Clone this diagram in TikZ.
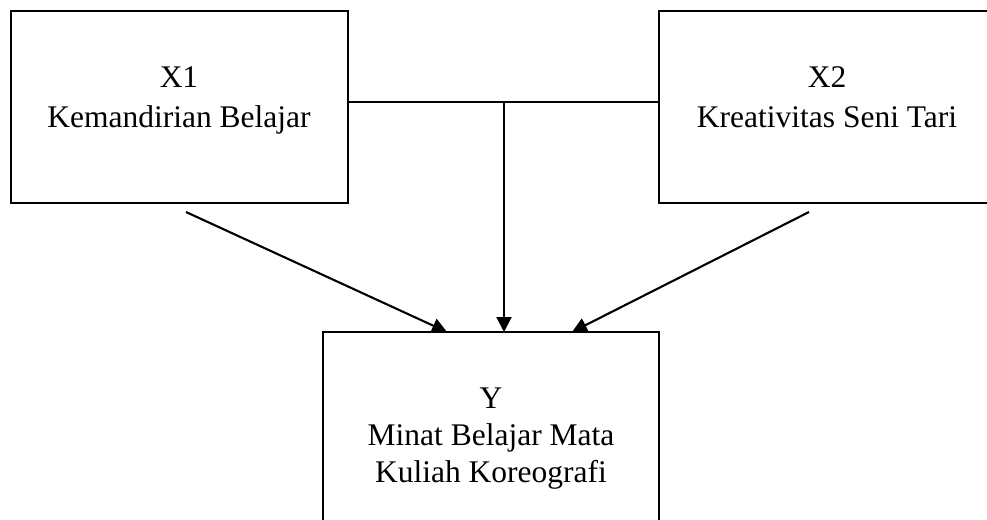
\documentclass[tikz,border=0pt]{standalone}
\usepackage{fontspec}
\setmainfont{Liberation Serif}
\usetikzlibrary{arrows.meta}
\tikzset{
  box/.style={draw=black, line width=2.1pt, fill=none, inner sep=0pt, outer sep=0pt, minimum width=337pt, minimum height=192pt},
  lbl/.style={anchor=base, inner sep=0pt, font=\fontsize{31.5}{38}\selectfont},
  conn/.style={line width=2.1pt, draw=black},
  arr/.style={conn, -{Triangle[length=15pt,width=15pt]}}
}
\begin{document}
\begin{tikzpicture}[x=1pt,y=-1pt]
\useasboundingbox (0,0) rectangle (987,519);
\node[box] (X1) at (179.5,107) {};
\node[box, minimum width=336pt] (X2) at (827,107) {};
\node[box, minimum width=336pt, minimum height=206pt] (Y) at (491,435) {};
\node[lbl] (x1a) at (179,88) {X1};
\node[lbl] (x1b) at (179,127) {Kemandirian Belajar};
\node[lbl] (x2a) at (827,88) {X2};
\node[lbl] (x2b) at (827,127) {Kreativitas Seni Tari};
\node[lbl] (ya) at (491,408) {Y};
\node[lbl] (yb) at (491,445) {Minat Belajar Mata};
\node[lbl] (yc) at (491,482) {Kuliah Koreografi};
\coordinate (j) at (504,102);
\coordinate (s1) at (186,212);
\coordinate (s2) at (809,212);
\coordinate (e1) at (447,0);
\coordinate (e2) at (572,0);
\draw[conn] (X1.east |- j) -- (X2.west |- j);
\draw[arr] (j) -- (Y.north -| j);
\draw[arr] (s1) -- (Y.north -| e1);
\draw[arr] (s2) -- (Y.north -| e2);
\end{tikzpicture}
\end{document}
